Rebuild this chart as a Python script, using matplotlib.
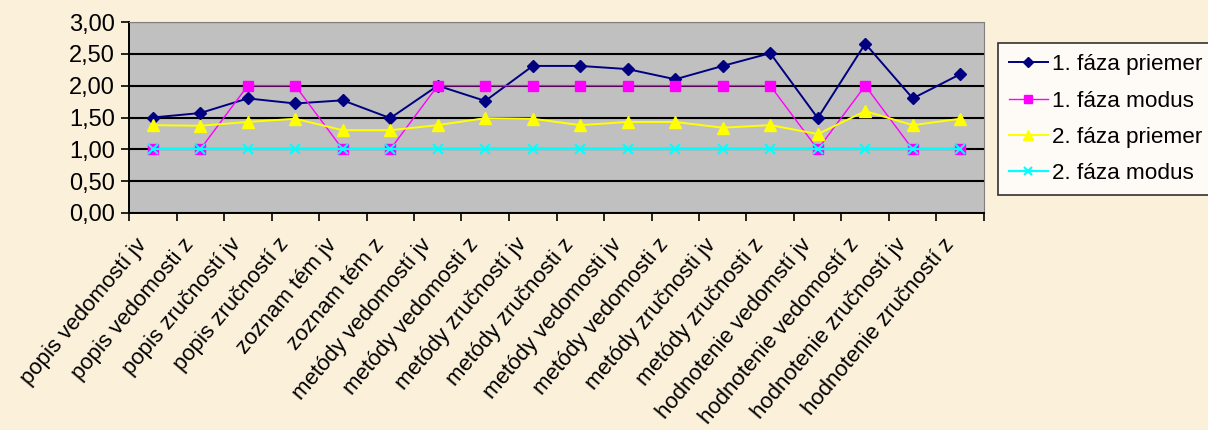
import matplotlib.pyplot as plt
from matplotlib.ticker import FuncFormatter, MultipleLocator
from matplotlib.transforms import ScaledTranslation
import numpy as np

plt.rcParams['font.family'] = ['Liberation Sans', 'DejaVu Sans']

categories = [
    "popis vedomostí jv", "popis vedomosti z", "popis zručností jv",
    "popis zručností z", "zoznam tém jv", "zoznam tém z",
    "metódy vedomostí jv", "metódy vedomosti z", "metódy zručností jv",
    "metódy zručnosti z", "metódy vedomosti jv", "metódy vedomosti z",
    "metódy zručnosti jv", "metódy zručnosti z", "hodnotenie vedomstí jv",
    "hodnotenie vedomostí z", "hodnotenie zručností jv", "hodnotenie zručností z",
]

faza1_priemer = [1.50, 1.57, 1.80, 1.72, 1.77, 1.49, 2.00, 1.76, 2.31,
                 2.31, 2.26, 2.10, 2.31, 2.51, 1.49, 2.66, 1.80, 2.18]
faza1_modus = [1, 1, 2, 2, 1, 1, 2, 2, 2, 2, 2, 2, 2, 2, 1, 2, 1, 1]
faza2_priemer = [1.38, 1.37, 1.43, 1.48, 1.30, 1.30, 1.38, 1.49, 1.48,
                 1.38, 1.43, 1.43, 1.34, 1.38, 1.24, 1.60, 1.38, 1.48]
faza2_modus = [1] * 18

fig = plt.figure(figsize=(12.08, 4.30), dpi=100)
fig.patch.set_facecolor("#FBF0DA")
ax = fig.add_axes([129 / 1208, 1 - 213 / 430, (984 - 129) / 1208, (213 - 22) / 430])
ax.set_facecolor("#C0C0C0")

x = np.arange(len(categories))
ax.plot(x, faza1_priemer, color="#000080", marker="D", markersize=6.5, lw=1.4, label="1. fáza priemer")
ax.plot(x, faza1_modus, color="#FF00FF", marker="s", markersize=7.5, lw=1.0, label="1. fáza modus")
ax.plot(x, faza2_priemer, color="#FFFF00", marker="^", markersize=8.5, lw=1.4, label="2. fáza priemer")
ax.plot(x, faza2_modus, color="#00FFFF", marker="x", markersize=7, mew=1.5, lw=1.6, label="2. fáza modus")

ax.set_xlim(-0.5, len(categories) - 0.5)
ax.set_ylim(0, 3)
ax.yaxis.set_major_locator(MultipleLocator(0.5))
ax.yaxis.set_major_formatter(FuncFormatter(lambda v, p: f"{v:.2f}".replace(".", ",")))
ax.grid(axis="y", color="black", lw=1.5)
ax.set_axisbelow(True)

# category boundaries carry the ticks, labels sit under the category centres
ax.set_xticks(np.arange(-0.5, len(categories), 1.0))
ax.set_xticklabels([])
ax.tick_params(axis="x", length=6, width=1.2, direction="out")
ax.tick_params(axis="y", length=6, width=1.2, labelsize=17, pad=4)

shift = ScaledTranslation(-10 / 100, -28 / 100, fig.dpi_scale_trans)
for i, name in enumerate(categories):
    ax.text(i, 0, name, transform=ax.get_xaxis_transform() + shift,
            rotation=50, rotation_mode="anchor", ha="right", va="center",
            fontsize=16)

for side in ["top", "right"]:
    ax.spines[side].set_color("#808080")
ax.spines["left"].set_linewidth(1.4)
ax.spines["bottom"].set_linewidth(1.4)

leg = fig.legend(loc="upper left", bbox_to_anchor=(998 / 1208, 1 - 43 / 430),
                 fontsize=16.2, frameon=True, fancybox=False, edgecolor="black",
                 handlelength=1.7, handletextpad=0.2, markerscale=0.8,
                 borderpad=0.5, borderaxespad=0, labelspacing=0.68)
leg.get_frame().set_linewidth(1.2)

fig.savefig("out.png", dpi=100, facecolor=fig.get_facecolor())
